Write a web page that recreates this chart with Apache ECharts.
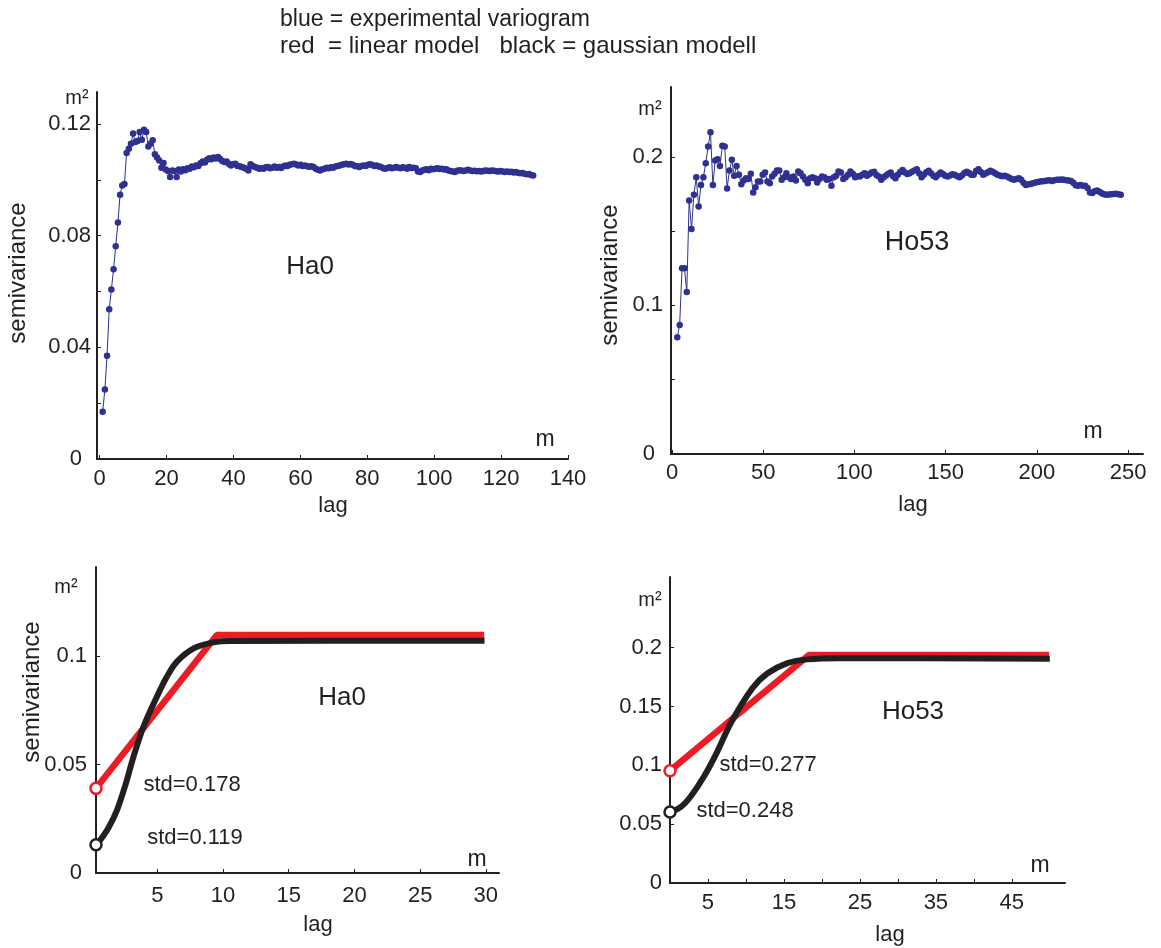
<!DOCTYPE html>
<html><head><meta charset="utf-8">
<script src="https://cdn.jsdelivr.net/npm/echarts@6/dist/echarts.min.js"></script>
<style>html,body{margin:0;padding:0;background:#fff}#c{width:1161px;height:948px}</style>
</head><body><div id="c"></div>
<script>
// ---------- DATA ----------
// Ha0 experimental variogram (lag bins start / spacing, semivariance in m^2)
const ha0LagStart = 0.9, ha0LagStep = 0.65;
const ha0Semivariance = [
  0.0169, 0.0249, 0.0370, 0.0537, 0.0607, 0.0680, 0.0762, 0.0847, 0.0947, 0.0980,
  0.0985, 0.1096, 0.1112, 0.1130, 0.1166, 0.1136, 0.1139, 0.1172, 0.1144, 0.1180,
  0.1172, 0.1120, 0.1130, 0.1142, 0.1092, 0.1080, 0.1070, 0.1044, 0.1061, 0.1037,
  0.1032, 0.1010, 0.1034, 0.1032, 0.1010, 0.1037,
  0.1030, 0.1038, 0.1035, 0.1042, 0.1040, 0.1048, 0.1045, 0.1052, 0.1050, 0.1060,
  0.1066, 0.1062, 0.1072, 0.1078, 0.1074, 0.1080, 0.1077, 0.1082, 0.1075, 0.1068,
  0.1064, 0.1066, 0.1058, 0.1052, 0.1056, 0.1058, 0.1050, 0.1049, 0.1046, 0.1044,
  0.1040, 0.1034, 0.1056, 0.1050, 0.1046, 0.1044, 0.1040, 0.1042, 0.1040, 0.1045,
  0.1046, 0.1042, 0.1044, 0.1048, 0.1044, 0.1046, 0.1043, 0.1048, 0.1052, 0.1050,
  0.1054, 0.1056, 0.1058, 0.1055, 0.1052, 0.1054, 0.1050, 0.1052, 0.1049, 0.1047,
  0.1049, 0.1046, 0.1040, 0.1036, 0.1034, 0.1038, 0.1040, 0.1044, 0.1042, 0.1045,
  0.1044, 0.1048, 0.1050, 0.1052, 0.1054, 0.1056, 0.1058, 0.1055, 0.1057, 0.1054,
  0.1050, 0.1049, 0.1046, 0.1050, 0.1052, 0.1050, 0.1054, 0.1056, 0.1053, 0.1050,
  0.1052, 0.1048, 0.1046, 0.1042, 0.1040, 0.1043, 0.1045, 0.1042, 0.1044, 0.1046,
  0.1044, 0.1042, 0.1045, 0.1044, 0.1040, 0.1046, 0.1043, 0.1044, 0.1042, 0.1030,
  0.1028, 0.1034, 0.1036, 0.1038, 0.1035, 0.1040, 0.1038, 0.1040, 0.1042, 0.1039,
  0.1040, 0.1037, 0.1038, 0.1034, 0.1032, 0.1030, 0.1028, 0.1033, 0.1035, 0.1034,
  0.1032, 0.1034, 0.1036, 0.1034, 0.1032, 0.1033, 0.1031, 0.1032, 0.1030, 0.1032,
  0.1034, 0.1033, 0.1032, 0.1034, 0.1033, 0.1031, 0.1030, 0.1032, 0.1030, 0.1028,
  0.1030, 0.1028, 0.1029, 0.1027, 0.1028, 0.1026, 0.1024, 0.1025, 0.1022, 0.1020,
  0.1021, 0.1018, 0.1016
];
// Ho53 experimental variogram
const ho53LagStart = 2.9, ho53LagStep = 1.3;
const ho53Semivariance = [
  0.0786, 0.0869, 0.1250, 0.1250, 0.1090, 0.1706, 0.1515, 0.1744, 0.1863, 0.1665,
  0.1810, 0.1863, 0.1957, 0.2070, 0.2166, 0.1811, 0.1975, 0.1984, 0.1939, 0.2074,
  0.2070, 0.1787, 0.1908, 0.1980, 0.1872, 0.1939, 0.1879, 0.1816, 0.1840, 0.1856,
  0.1850, 0.1886, 0.1760, 0.1796, 0.1834, 0.1834, 0.1879, 0.1894, 0.1834, 0.1823,
  0.1867, 0.1886, 0.1908, 0.1908, 0.1845, 0.1863, 0.1890, 0.1863, 0.1850, 0.1867,
  0.1840, 0.1901, 0.1890, 0.1867, 0.1845, 0.1823, 0.1856, 0.1863, 0.1856, 0.1827,
  0.1850, 0.1867, 0.1863, 0.1845, 0.1850, 0.1805, 0.1863, 0.1872, 0.1901, 0.1894,
  0.1850, 0.1863, 0.1879, 0.1901, 0.1886, 0.1863, 0.1870,
  0.1867, 0.1880, 0.1890, 0.1872, 0.1885, 0.1895, 0.1900, 0.1878, 0.1868, 0.1845,
  0.1862, 0.1875, 0.1886, 0.1894, 0.1870, 0.1856, 0.1880, 0.1898, 0.1912, 0.1895,
  0.1884, 0.1890, 0.1900, 0.1908, 0.1916, 0.1890, 0.1863, 0.1880, 0.1897, 0.1907,
  0.1890, 0.1872, 0.1863, 0.1880, 0.1894, 0.1885, 0.1872, 0.1867, 0.1875, 0.1882,
  0.1879, 0.1870, 0.1863, 0.1875, 0.1890, 0.1900, 0.1892, 0.1880, 0.1879, 0.1905,
  0.1916, 0.1898, 0.1879, 0.1888, 0.1896, 0.1907, 0.1900, 0.1890, 0.1879, 0.1875,
  0.1870, 0.1872, 0.1867, 0.1860, 0.1850, 0.1845, 0.1850, 0.1856, 0.1845, 0.1825,
  0.1811, 0.1815, 0.1818, 0.1822, 0.1827, 0.1830, 0.1834, 0.1836, 0.1838, 0.1840,
  0.1842, 0.1838, 0.1842, 0.1845, 0.1845, 0.1848, 0.1846, 0.1843, 0.1840, 0.1838,
  0.1825, 0.1808, 0.1805, 0.1810, 0.1806, 0.1805, 0.1790, 0.1760, 0.1756, 0.1768,
  0.1773, 0.1765, 0.1755, 0.1748, 0.1744, 0.1746, 0.1748, 0.1750, 0.1751, 0.1748,
  0.1744
];
// fitted models [lag, semivariance]
const ha0Linear = [[0.34, 0.0390], [9.54, 0.1097], [29.87, 0.1097]];
const ha0Gauss = [[0.34, 0.0130], [0.68, 0.0153], [1.30, 0.0210], [1.94, 0.0290], [2.60, 0.0410],
  [3.20, 0.0537], [3.96, 0.0675], [4.98, 0.0813], [5.74, 0.0905], [6.50, 0.0974],
  [7.77, 0.1035], [9.29, 0.1063], [10.55, 0.1069], [29.90, 0.1070]];
const ho53Linear = [[0.0, 0.0953], [18.3, 0.1937], [49.9, 0.1937]];
const ho53Gauss = [[0.0, 0.0603], [1.40, 0.0645], [2.72, 0.0735], [4.47, 0.0905], [6.23, 0.1117],
  [7.99, 0.1358], [10.84, 0.1655], [12.80, 0.1780], [15.45, 0.1868], [18.08, 0.1900],
  [22.50, 0.1910], [50.0, 0.1905]];
// axis ticks / labels
const tlXTicks = [0, 20, 40, 60, 80, 100, 120, 140];
const tlYTicks = [0.02, 0.04, 0.06, 0.08, 0.10, 0.12];
const tlYLabels = [0, 0.04, 0.08, 0.12];
const trXTicks = [0, 50, 100, 150, 200, 250];
const trYTicks = [0.05, 0.1, 0.15, 0.2];
const trYLabels = [0, 0.1, 0.2];
const blXTicks = [5, 10, 15, 20, 25, 30];
const blYTicks = [0.05, 0.1];
const blYLabels = [0, 0.05, 0.1];
const brXTicks = [5, 10, 15, 20, 25, 30, 35, 40, 45];
const brXLabels = [5, 15, 25, 35, 45];
const brYTicks = [0.05, 0.1, 0.15, 0.2];
const brYLabels = [0, 0.05, 0.1, 0.15, 0.2];
const titleLines = ['blue = experimental variogram', 'red  = linear model   black = gaussian modell'];
const stdTexts = ['std=0.178', 'std=0.119', 'std=0.277', 'std=0.248'];

// ---------- CHART ----------
const INK = '#231f20', BLUE = '#2e3192', RED = '#ed1c24';
const FF = '"Liberation Sans", Arial, Helvetica, sans-serif';
const pairs = (s, d, v) => v.map((y, i) => [+(s + d * i).toFixed(3), y]);

function xAxis(grid, min, max, ticks, labels, margin) {
  return {
    type: 'value', gridIndex: grid, min, max, splitLine: { show: false },
    axisLine: { show: true, onZero: false, lineStyle: { color: INK, width: 2 } },
    axisTick: { show: true, inside: true, length: 4, lineStyle: { color: INK, width: 1 }, customValues: ticks },
    axisLabel: { customValues: labels, margin, color: INK, fontSize: 22, fontFamily: FF },
  };
}
function yAxis(grid, max, ticks, labels, margin, zeroPad) {
  return {
    type: 'value', gridIndex: grid, min: 0, max, splitLine: { show: false },
    axisLine: { show: true, onZero: false, lineStyle: { color: INK, width: 2 } },
    axisTick: { show: true, inside: true, length: 4, lineStyle: { color: INK, width: 1 }, customValues: ticks },
    axisLabel: {
      customValues: labels, margin, color: INK, fontSize: 22, fontFamily: FF,
      formatter: v => (v === 0 ? '{z|0}' : String(v)),
      rich: { z: { padding: [0, zeroPad, 0, 0], fontSize: 22, fontFamily: FF, color: INK } }
    },
  };
}
function expSeries(i, data) {
  return { type: 'line', xAxisIndex: i, yAxisIndex: i, data, symbol: 'circle', symbolSize: 6.5,
    showAllSymbol: true, itemStyle: { color: BLUE }, lineStyle: { color: BLUE, width: 1 }, silent: true };
}
function modelSeries(i, pts, color, width, smooth) {
  const data = pts.map((p, k) => k === 0
    ? { value: p, symbol: 'circle', symbolSize: 11, itemStyle: { color: '#fff', borderColor: color, borderWidth: 2.5 } }
    : { value: p, symbol: 'none' });
  return { type: 'line', xAxisIndex: i, yAxisIndex: i, data, smooth, showSymbol: true, showAllSymbol: true,
    lineStyle: { color, width, cap: 'butt' }, itemStyle: { color }, silent: true, z: 3 };
}
function txt(x, y, text, size, extra) {
  return Object.assign({ type: 'text', x, y, silent: true,
    style: { text, fill: INK, fontSize: size, fontFamily: FF, align: 'center', verticalAlign: 'middle' } }, extra || {});
}
function ltxt(x, y, text, size) {
  return { type: 'text', x, y, silent: true,
    style: { text, fill: INK, fontSize: size, fontFamily: FF, align: 'left', verticalAlign: 'middle' } };
}

const chart = echarts.init(document.getElementById('c'), null, { renderer: 'canvas' });
chart.setOption({
  animation: false,
  backgroundColor: '#fff',
  grid: [
    { left: 97, top: 92, width: 471, height: 367 },
    { left: 671, top: 87, width: 472, height: 367 },
    { left: 96, top: 567, width: 403, height: 306 },
    { left: 670, top: 577, width: 395, height: 306 },
  ],
  xAxis: [
    xAxis(0, -0.8, 140, tlXTicks, tlXTicks, 9),
    xAxis(1, -0.55, 258.2, trXTicks, trXTicks, 8),
    xAxis(2, 0.34, 31.0, blXTicks, blXTicks, 12),
    xAxis(3, 0, 52, brXTicks, brXLabels, 9),
  ],
  yAxis: [
    yAxis(0, 0.1315, tlYTicks, tlYLabels, 6, 9),
    yAxis(1, 0.247, trYTicks, trYLabels, 8, 8),
    yAxis(2, 0.141, blYTicks, blYLabels, 9, 5),
    yAxis(3, 0.26, brYTicks, brYLabels, 8, 0),
  ],
  series: [
    expSeries(0, pairs(ha0LagStart, ha0LagStep, ha0Semivariance)),
    expSeries(1, pairs(ho53LagStart, ho53LagStep, ho53Semivariance)),
    modelSeries(2, ha0Linear, RED, 6.5, false),
    modelSeries(2, ha0Gauss, INK, 6, 0.35),
    modelSeries(3, ho53Linear, RED, 6.5, false),
    modelSeries(3, ho53Gauss, INK, 6, 0.35),
  ],
  graphic: [
    ltxt(280, 20, titleLines[0], 23),
    ltxt(280, 46, titleLines[1], 24),
    // unit labels
    txt(77, 98, 'm²', 20), txt(650, 109, 'm²', 20), txt(66, 587, 'm²', 20), txt(650, 600, 'm²', 20),
    txt(545, 440, 'm', 23), txt(1093, 432, 'm', 23), txt(477, 860, 'm', 23), txt(1040, 866, 'm', 23),
    // axis names
    txt(18, 273, 'semivariance', 24, { rotation: Math.PI / 2 }),
    txt(610, 275, 'semivariance', 24, { rotation: Math.PI / 2 }),
    txt(32, 692, 'semivariance', 24, { rotation: Math.PI / 2 }),
    txt(333, 506, 'lag', 22), txt(913, 505, 'lag', 22), txt(318, 925, 'lag', 22), txt(890, 935, 'lag', 22),
    // panel names
    txt(310, 267, 'Ha0', 26), txt(917, 243, 'Ho53', 27), txt(342, 698, 'Ha0', 26), txt(913, 712, 'Ho53', 26),
    // std texts
    txt(192, 785, stdTexts[0], 22), txt(195, 838, stdTexts[1], 22),
    txt(768, 765, stdTexts[2], 22), txt(745, 811, stdTexts[3], 22),
  ]
});
</script></body></html>
